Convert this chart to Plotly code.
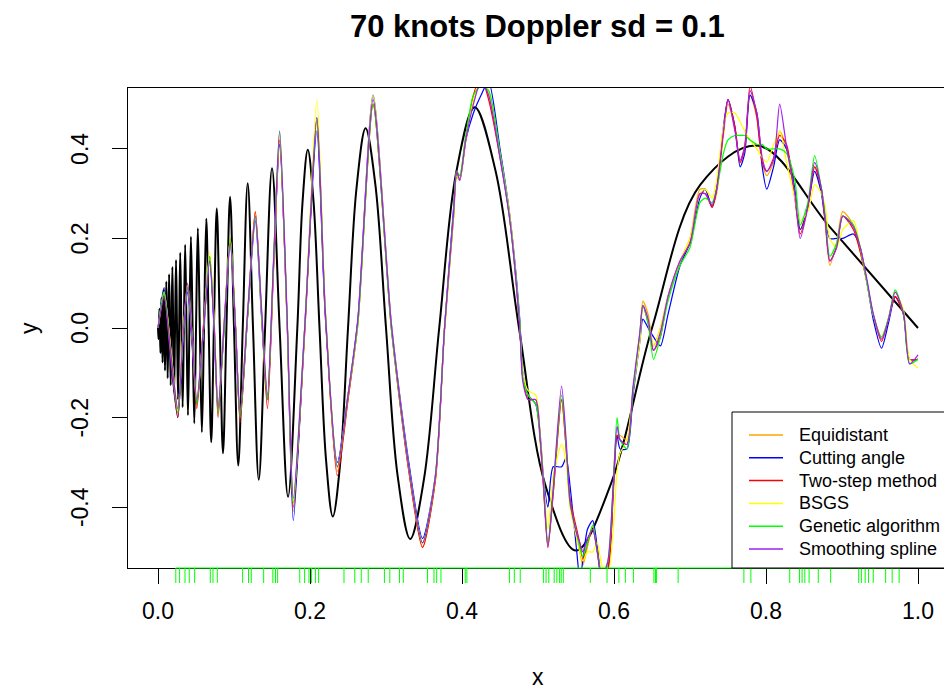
import plotly.graph_objects as go

# ---------------- data ----------------
# true Doppler curve (black), read at its peaks, troughs and zero crossings
true_x = [0.0000, 0.0006, 0.0012, 0.0019, 0.0025, 0.0032, 0.0038, 0.0045, 0.0053, 0.0060,
          0.0068, 0.0075, 0.0083, 0.0092, 0.0100, 0.0109, 0.0118, 0.0127, 0.0136, 0.0146,
          0.0156, 0.0167, 0.0177, 0.0189, 0.0200, 0.0212, 0.0224, 0.0237, 0.0250, 0.0264,
          0.0278, 0.0292, 0.0308, 0.0324, 0.0340, 0.0357, 0.0375, 0.0394, 0.0413, 0.0433,
          0.0455, 0.0477, 0.0500, 0.0524, 0.0550, 0.0577, 0.0605, 0.0635, 0.0667, 0.0700,
          0.0735, 0.0773, 0.0813, 0.0855, 0.0900, 0.0948, 0.1000, 0.1056, 0.1115, 0.1180,
          0.1250, 0.1326, 0.1409, 0.1500, 0.1600, 0.1711, 0.1833, 0.1900, 0.1971, 0.2045,
          0.2125, 0.2210, 0.2300, 0.2397, 0.2500, 0.2611, 0.2731, 0.2860, 0.3000, 0.3152,
          0.3318, 0.3500, 0.3700, 0.3921, 0.4167, 0.4441, 0.4750, 0.5100, 0.5500, 0.5962,
          0.6500, 0.7136, 0.7900, 0.8833, 1.0000]
true_y = [0.000, -0.025, 0.000, 0.043, 0.000, -0.056, 0.000, 0.067, 0.000, -0.077,
          0.000, 0.086, 0.000, -0.095, 0.000, 0.104, 0.000, -0.112, 0.000, 0.120,
          0.000, -0.128, 0.000, 0.136, 0.000, -0.144, 0.000, 0.152, 0.000, -0.160,
          0.000, 0.168, 0.000, -0.177, 0.000, 0.186, 0.000, -0.195, 0.000, 0.204,
          0.000, -0.213, 0.000, 0.223, 0.000, -0.233, 0.000, 0.244, 0.000, -0.255,
          0.000, 0.267, 0.000, -0.280, 0.000, 0.293, 0.000, -0.307, 0.000, 0.323,
          0.000, -0.339, 0.000, 0.357, 0.000, -0.377, 0.000, 0.277, 0.398, 0.285,
          0.000, -0.293, -0.421, -0.302, 0.000, 0.311, 0.446, 0.320, 0.000, -0.329,
          -0.471, -0.337, 0.000, 0.345, 0.493, 0.351, 0.000, -0.353, -0.497, -0.347,
          0.000, 0.320, 0.407, 0.227, 0.000]

# common x grid of the fitted curves
fit_x = [0.000, 0.008, 0.017, 0.026, 0.033, 0.039, 0.045, 0.051,
         0.060, 0.068, 0.074, 0.079, 0.087, 0.095, 0.102, 0.108,
         0.118, 0.128, 0.136, 0.144, 0.152, 0.160, 0.170, 0.178,
         0.193, 0.209, 0.220, 0.236, 0.250, 0.263, 0.283, 0.307,
         0.330, 0.348, 0.365, 0.377, 0.389, 0.393, 0.397, 0.405,
         0.415, 0.425, 0.435, 0.450, 0.463, 0.476, 0.480, 0.487,
         0.497, 0.503, 0.507, 0.513, 0.520, 0.531, 0.537, 0.542,
         0.551, 0.555, 0.559, 0.565, 0.572, 0.578, 0.584, 0.592,
         0.599, 0.604, 0.608, 0.617, 0.625, 0.634, 0.638, 0.645,
         0.652, 0.661, 0.671, 0.687, 0.700, 0.713, 0.720, 0.729,
         0.735, 0.744, 0.750, 0.759, 0.766, 0.772, 0.779, 0.788,
         0.795, 0.801, 0.810, 0.818, 0.827, 0.838, 0.845, 0.855,
         0.864, 0.873, 0.878, 0.884, 0.893, 0.901, 0.915, 0.924,
         0.933, 0.941, 0.952, 0.961, 0.970, 0.981, 0.989, 1.000]

y_equidistant = [0.00, 0.08, -0.05, -0.19, -0.01, 0.09, -0.03, -0.17,
                 0.01, 0.16, 0.01, -0.19, 0.00, 0.20, 0.01, -0.20,
                 0.03, 0.26, 0.04, -0.16, 0.14, 0.42, 0.00, -0.41,
                 -0.01, 0.46, 0.03, -0.32, -0.16, 0.01, 0.50, 0.00,
                 -0.32, -0.49, -0.34, -0.01, 0.25, 0.35, 0.34, 0.43,
                 0.51, 0.56, 0.52, 0.39, 0.25, 0.01, -0.11, -0.15,
                 -0.17, -0.26, -0.35, -0.48, -0.37, -0.16, -0.27, -0.39,
                 -0.47, -0.50, -0.53, -0.49, -0.44, -0.49, -0.55, -0.53,
                 -0.36, -0.24, -0.24, -0.25, -0.14, -0.02, 0.06, 0.03,
                 -0.04, 0.00, 0.07, 0.15, 0.20, 0.31, 0.31, 0.27,
                 0.30, 0.43, 0.50, 0.45, 0.37, 0.41, 0.52, 0.47,
                 0.37, 0.34, 0.37, 0.44, 0.40, 0.29, 0.22, 0.27,
                 0.36, 0.30, 0.23, 0.14, 0.19, 0.26, 0.23, 0.17,
                 0.10, 0.03, -0.02, 0.02, 0.07, 0.03, -0.07, -0.07]

y_cutting = [0.00, 0.09, -0.08, -0.20, -0.02, 0.08, -0.04, -0.17,
             0.00, 0.15, -0.01, -0.18, 0.00, 0.19, 0.00, -0.20,
             0.03, 0.24, 0.03, -0.16, 0.14, 0.41, 0.01, -0.43,
             0.00, 0.44, 0.03, -0.30, -0.15, 0.02, 0.52, 0.01,
             -0.30, -0.47, -0.33, 0.00, 0.27, 0.34, 0.33, 0.42,
             0.48, 0.52, 0.55, 0.40, 0.25, 0.02, -0.10, -0.15,
             -0.17, -0.24, -0.33, -0.40, -0.31, -0.31, -0.29, -0.35,
             -0.50, -0.56, -0.52, -0.45, -0.43, -0.49, -0.56, -0.54,
             -0.36, -0.24, -0.27, -0.27, -0.15, -0.03, 0.02, 0.00,
             -0.02, -0.04, 0.03, 0.14, 0.19, 0.29, 0.31, 0.27,
             0.31, 0.45, 0.51, 0.45, 0.36, 0.39, 0.52, 0.48,
             0.36, 0.31, 0.36, 0.42, 0.40, 0.31, 0.22, 0.27,
             0.35, 0.30, 0.24, 0.20, 0.20, 0.20, 0.21, 0.18,
             0.10, 0.02, -0.045, 0.01, 0.07, 0.03, -0.07, -0.07]

y_twostep = [0.00, 0.07, -0.07, -0.20, -0.01, 0.09, -0.03, -0.18,
             0.01, 0.16, 0.00, -0.20, 0.01, 0.20, 0.00, -0.21,
             0.03, 0.26, 0.04, -0.18, 0.13, 0.42, 0.01, -0.40,
             -0.01, 0.47, 0.04, -0.33, -0.16, 0.01, 0.50, 0.00,
             -0.32, -0.49, -0.34, 0.00, 0.25, 0.35, 0.33, 0.42,
             0.52, 0.56, 0.51, 0.38, 0.24, 0.00, -0.11, -0.16,
             -0.16, -0.25, -0.35, -0.49, -0.37, -0.16, -0.27, -0.38,
             -0.45, -0.48, -0.52, -0.48, -0.45, -0.50, -0.56, -0.54,
             -0.37, -0.24, -0.25, -0.26, -0.14, -0.02, 0.05, 0.01,
             -0.05, -0.02, 0.07, 0.15, 0.19, 0.30, 0.30, 0.27,
             0.31, 0.44, 0.51, 0.45, 0.37, 0.40, 0.54, 0.47,
             0.37, 0.35, 0.38, 0.43, 0.41, 0.29, 0.21, 0.27,
             0.36, 0.31, 0.24, 0.15, 0.18, 0.25, 0.22, 0.17,
             0.10, 0.03, -0.03, 0.02, 0.07, 0.03, -0.07, -0.07]

y_bsgs = [0.00, 0.08, -0.05, -0.18, -0.01, 0.10, -0.02, -0.16,
          0.00, 0.17, 0.01, -0.18, 0.01, 0.20, 0.00, -0.19,
          0.04, 0.25, 0.04, -0.15, 0.14, 0.43, 0.01, -0.39,
          0.00, 0.51, 0.05, -0.31, -0.15, 0.01, 0.52, 0.01,
          -0.31, -0.48, -0.33, 0.00, 0.25, 0.34, 0.33, 0.42,
          0.51, 0.56, 0.53, 0.39, 0.25, 0.01, -0.10, -0.14,
          -0.15, -0.24, -0.33, -0.45, -0.33, -0.26, -0.30, -0.40,
          -0.47, -0.50, -0.52, -0.50, -0.50, -0.48, -0.53, -0.55,
          -0.45, -0.32, -0.28, -0.25, -0.14, -0.03, 0.05, 0.02,
          -0.04, 0.00, 0.07, 0.15, 0.20, 0.30, 0.31, 0.29,
          0.33, 0.45, 0.48, 0.48, 0.46, 0.44, 0.42, 0.40,
          0.38, 0.37, 0.41, 0.44, 0.37, 0.29, 0.24, 0.26,
          0.32, 0.30, 0.27, 0.20, 0.18, 0.22, 0.24, 0.18,
          0.10, 0.03, -0.02, 0.02, 0.08, 0.04, -0.07, -0.09]

y_genetic = [0.00, 0.08, -0.06, -0.19, -0.02, 0.09, -0.02, -0.17,
             0.00, 0.16, 0.00, -0.19, 0.00, 0.20, 0.00, -0.20,
             0.03, 0.25, 0.04, -0.16, 0.15, 0.44, 0.01, -0.39,
             0.00, 0.47, 0.04, -0.31, -0.15, 0.01, 0.50, 0.00,
             -0.31, -0.48, -0.33, 0.00, 0.26, 0.35, 0.34, 0.43,
             0.52, 0.54, 0.53, 0.39, 0.24, 0.01, -0.11, -0.15,
             -0.17, -0.25, -0.34, -0.48, -0.36, -0.15, -0.26, -0.39,
             -0.46, -0.49, -0.51, -0.48, -0.44, -0.50, -0.55, -0.52,
             -0.35, -0.20, -0.25, -0.27, -0.14, -0.01, 0.05, 0.01,
             -0.07, -0.02, 0.06, 0.14, 0.18, 0.28, 0.29, 0.28,
             0.31, 0.39, 0.42, 0.43, 0.43, 0.43, 0.42, 0.41,
             0.41, 0.40, 0.40, 0.40, 0.39, 0.33, 0.23, 0.28,
             0.385, 0.31, 0.25, 0.16, 0.19, 0.25, 0.23, 0.18,
             0.10, 0.03, -0.02, 0.02, 0.085, 0.03, -0.08, -0.07]

y_smoothing = [0.00, 0.07, -0.06, -0.18, -0.02, 0.10, -0.02, -0.16,
               0.00, 0.15, 0.00, -0.18, 0.01, 0.19, 0.00, -0.19,
               0.04, 0.25, 0.05, -0.15, 0.15, 0.44, 0.02, -0.38,
               0.00, 0.47, 0.04, -0.31, -0.15, 0.02, 0.51, 0.01,
               -0.31, -0.48, -0.33, 0.00, 0.26, 0.35, 0.33, 0.42,
               0.50, 0.55, 0.52, 0.38, 0.24, 0.00, -0.12, -0.16,
               -0.16, -0.25, -0.34, -0.49, -0.36, -0.13, -0.25, -0.385,
               -0.46, -0.48, -0.50, -0.47, -0.45, -0.50, -0.56, -0.52,
               -0.35, -0.22, -0.25, -0.26, -0.13, -0.01, 0.05, 0.02,
               -0.05, -0.01, 0.07, 0.15, 0.19, 0.30, 0.30, 0.275,
               0.31, 0.44, 0.51, 0.44, 0.375, 0.405, 0.53, 0.48,
               0.38, 0.35, 0.375, 0.50, 0.405, 0.30, 0.20, 0.27,
               0.37, 0.31, 0.24, 0.15, 0.18, 0.25, 0.226, 0.18,
               0.107, 0.033, -0.025, 0.018, 0.08, 0.033, -0.08, -0.06]

method_names = ["Equidistant", "Cutting angle", "Two-step method", "BSGS",
                "Genetic algorithm", "Smoothing spline"]
method_colors = ["#FFA500", "#0000FF", "#FF0000", "#FFFF00", "#00FF00", "#A020F0"]
method_values = [y_equidistant, y_cutting, y_twostep, y_bsgs, y_genetic, y_smoothing]

# knot positions (rug)
rug_x = [0.0234, 0.0284, 0.0355, 0.0411, 0.0482, 0.0688, 0.0723, 0.0780, 0.1113, 0.1191,
         0.1227, 0.1390, 0.1511, 0.1546, 0.1574, 0.1865, 0.1929, 0.1986, 0.2021, 0.2071,
         0.2113, 0.2447, 0.2589, 0.2674, 0.2766, 0.2979, 0.3050, 0.3177, 0.3227, 0.3546,
         0.3631, 0.3667, 0.3723, 0.4043, 0.4064, 0.4624, 0.4688, 0.4766, 0.5071, 0.5106,
         0.5142, 0.5213, 0.5248, 0.5284, 0.5305, 0.5333, 0.5688, 0.5908, 0.6064, 0.6149,
         0.6255, 0.6525, 0.6546, 0.6560, 0.6844, 0.7709, 0.7801, 0.8312, 0.8440, 0.8475,
         0.8511, 0.8567, 0.8688, 0.8851, 0.9220, 0.9255, 0.9305, 0.9348, 0.9411, 0.9574,
         0.9660, 0.9752]

x_ticks = [0.0, 0.2, 0.4, 0.6, 0.8, 1.0]
x_ticklabels = ["0.0", "0.2", "0.4", "0.6", "0.8", "1.0"]
y_ticks = [-0.4, -0.2, 0.0, 0.2, 0.4]
y_ticklabels = ["-0.4", "-0.2", "0.0", "0.2", "0.4"]

# ---------------- layout geometry (pixels) ----------------
W, H = 944, 694
PL, PT, PB = 128, 88, 568          # plot left / top / bottom
PW, PH = W - PL, PB - PT
FONT = "Liberation Sans, Arial, sans-serif"


def px(xp):
    return (xp - PL) / PW


def py(yp):
    return (PB - yp) / PH


fig = go.Figure()

fig.add_trace(go.Scatter(x=true_x, y=true_y, mode="lines",
                         line=dict(color="black", width=2, shape="spline", smoothing=1),
                         showlegend=False, hoverinfo="skip"))

for name, ys, col in zip(method_names, method_values, method_colors):
    fig.add_trace(go.Scatter(x=fit_x, y=ys, mode="lines", name=name,
                             line=dict(color=col, width=1.2, shape="spline", smoothing=0.7),
                             showlegend=False))

shapes = []
# rug
for xv in rug_x:
    shapes.append(dict(type="line", xref="x", yref="paper", x0=xv, x1=xv,
                       y0=0, y1=-15 / PH, line=dict(color="#00FF00", width=1)))
shapes.append(dict(type="line", xref="x", yref="paper", x0=min(rug_x), x1=max(rug_x),
                   y0=0, y1=0, line=dict(color="#00FF00", width=1)))

# legend box
shapes.append(dict(type="rect", xref="paper", yref="paper", x0=px(732), x1=px(960),
                   y0=0, y1=py(412), line=dict(color="black", width=1),
                   fillcolor="white", layer="above"))
annotations = []
row_y = [435, 457.8, 480.6, 503.4, 526.2, 549]
for name, col, ry in zip(method_names, method_colors, row_y):
    shapes.append(dict(type="line", xref="paper", yref="paper", x0=px(749), x1=px(783),
                       y0=py(ry), y1=py(ry), line=dict(color=col, width=1.5)))
    annotations.append(dict(text=name, xref="paper", yref="paper", x=px(797), y=py(ry),
                            xanchor="left", yanchor="middle", showarrow=False,
                            font=dict(family=FONT, size=18, color="black")))

# tick labels
for t, lab in zip(x_ticks, x_ticklabels):
    annotations.append(dict(text=lab, xref="x", yref="paper", x=t, y=py(611),
                            xanchor="center", yanchor="middle", showarrow=False,
                            font=dict(family=FONT, size=23, color="black")))
for t, lab in zip(y_ticks, y_ticklabels):
    annotations.append(dict(text=lab, xref="paper", yref="y", x=px(80), y=t,
                            xanchor="center", yanchor="middle", showarrow=False,
                            textangle=-90,
                            font=dict(family=FONT, size=23, color="black")))

# title and axis titles
annotations.append(dict(text="<b>70 knots Doppler sd = 0.1</b>", xref="paper", yref="paper",
                        x=px(537), y=py(27), xanchor="center", yanchor="middle",
                        showarrow=False, font=dict(family=FONT, size=31, color="black")))
annotations.append(dict(text="x", xref="paper", yref="paper", x=px(538), y=py(677),
                        xanchor="center", yanchor="middle", showarrow=False,
                        font=dict(family=FONT, size=23, color="black")))
annotations.append(dict(text="y", xref="paper", yref="paper", x=px(29), y=py(328),
                        xanchor="center", yanchor="middle", showarrow=False, textangle=-90,
                        font=dict(family=FONT, size=23, color="black")))

fig.update_layout(
    width=W, height=H,
    margin=dict(l=PL, r=0, t=PT, b=H - PB, pad=0),
    paper_bgcolor="white", plot_bgcolor="white",
    showlegend=False,
    shapes=shapes, annotations=annotations,
    xaxis=dict(range=[-0.0395, (W - 158) / 760], tickvals=x_ticks, showticklabels=False,
               ticks="outside", ticklen=15, tickcolor="black", tickwidth=1,
               showgrid=False, zeroline=False, showline=True, linecolor="black",
               linewidth=1, mirror=True),
    yaxis=dict(range=[-0.536, 0.536], tickvals=y_ticks, showticklabels=False,
               ticks="outside", ticklen=15, tickcolor="black", tickwidth=1,
               showgrid=False, zeroline=False, showline=True, linecolor="black",
               linewidth=1, mirror=False),
)

fig.write_html("out.html")
